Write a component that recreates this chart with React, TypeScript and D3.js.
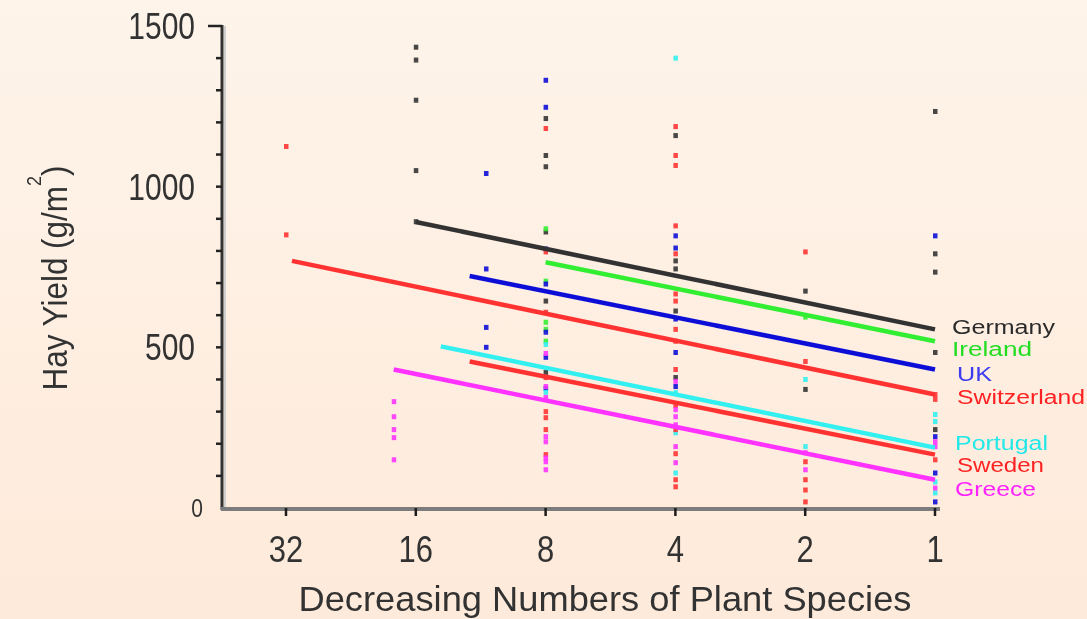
import React from "react";
import * as d3 from "d3";

// species counts on the x axis (log2 spaced, decreasing to the right)
const xTicks = [32, 16, 8, 4, 2, 1];
const yTicks = [0, 500, 1000, 1500];

const countries = ["Germany", "Ireland", "UK", "Switzerland", "Portugal", "Sweden", "Greece"];
const colors = ["#333333", "#33ee33", "#1010d8", "#ff3333", "#33f0f0", "#ff3333", "#ff33ff"];
const labelColors = ["#2a2a2a", "#22dd22", "#3b3bf0", "#ff2222", "#22e8e8", "#ff2222", "#ff22ff"];

// regression lines: start species count, value there, value at 1 species
const trendStart = [16, 8, 12, 31, 14, 12, 18];
const trendFrom = [890, 765, 722, 769, 503, 456, 431];
const trendTo = [556, 519, 431, 353, 188, 166, 88];

// plot observations [species, g/m2]
const germanyPts = [[16, 1434], [16, 1394], [16, 1269], [16, 1050], [16, 891], [8, 1212], [8, 1097], [8, 1062], [8, 859], [8, 644], [8, 422],
  [4, 1159], [4, 769], [4, 744], [4, 613], [4, 406], [2, 675], [2, 369], [1, 1234], [1, 791], [1, 734], [1, 484], [1, 244]];
const irelandPts = [[8, 869], [8, 706], [8, 578], [8, 556], [8, 519], [2, 594]];
const ukPts = [[11, 1041], [11, 744], [11, 562], [11, 500], [8, 1331], [8, 1247], [8, 806], [8, 697], [8, 547], [8, 469], [8, 372],
  [4, 847], [4, 809], [4, 588], [4, 484], [4, 378], [1, 847], [1, 222], [1, 109], [1, 19]];
const swissPts = [[32, 1125], [32, 850], [8, 1181], [8, 797], [8, 609], [8, 406], [4, 1187], [4, 1097], [4, 1066], [4, 878], [4, 791],
  [4, 666], [4, 644], [4, 556], [2, 797], [2, 456], [1, 353], [1, 338]];
const portugalPts = [[8, 509], [8, 360], [4, 1400], [4, 359], [4, 234], [4, 109], [2, 400], [2, 191], [1, 291], [1, 269], [1, 81], [1, 47]];
const swedenPts = [[8, 300], [8, 281], [8, 244], [8, 166], [4, 519], [4, 431], [4, 319], [4, 244], [4, 169], [4, 88], [4, 66],
  [2, 144], [2, 88], [2, 56], [2, 19], [1, 150]];
const greecePts = [[18, 331], [18, 284], [18, 244], [18, 219], [18, 150], [8, 481], [8, 378], [8, 344], [8, 222], [8, 206], [8, 156],
  [8, 144], [8, 119], [4, 394], [4, 306], [4, 284], [4, 259], [4, 191], [4, 141], [2, 172], [2, 119], [1, 206], [1, 191], [1, 62]];
const allPts = [germanyPts, irelandPts, ukPts, swissPts, portugalPts, swedenPts, greecePts];

// label layout at the right end
const labelX = [952, 952, 957, 957, 955, 957, 955];
const labelY = [327, 349, 374, 397, 443, 465, 489];
const labelW = [103, 80, 35, 128, 93, 87, 81];

const font = "'Liberation Sans', Arial, sans-serif";

export default function App() {
  const width = 1087;
  const height = 619;
  const x = d3.scaleLog().base(2).domain([32, 1]).range([286, 935]);
  const y = d3.scaleLinear().domain([0, 1500]).range([508, 26]);
  const line = d3.line<[number, number]>().x((d) => x(d[0])).y((d) => y(d[1]));
  const minor = d3.range(100, 1501, 100);

  return (
    <div style={{ position: "fixed", left: 0, top: 0 }}>
      <svg width={width} height={height} style={{ display: "block" }}>
        <defs>
          <linearGradient id="bg" x1="0" y1="0" x2="0" y2="1">
            <stop offset="0" stopColor="#fef4ea" />
            <stop offset="1" stopColor="#feeada" />
          </linearGradient>
          <filter id="soft" x="-5%" y="-5%" width="110%" height="110%">
            <feGaussianBlur stdDeviation="0.7" />
          </filter>
        </defs>
        <rect width={width} height={height} fill="url(#bg)" />

        <g filter="url(#soft)">
          {/* points */}
          {allPts.map((pts, i) =>
            pts.map((d, j) => (
              <rect key={i + "-" + j} x={x(d[0]) - 2} y={y(d[1]) - 2.5} width={4.5} height={5} fill={colors[i]} opacity={0.9} />
            ))
          )}
          {/* trend lines */}
          {countries.map((c, i) => (
            <path key={c} d={line([[trendStart[i], trendFrom[i]], [1, trendTo[i]]]) || ""} stroke={colors[i]} strokeWidth={4.5} fill="none" />
          ))}

          {/* y axis */}
          <line x1={225} x2={225} y1={y(1500)} y2={y(0)} stroke="#cfcfcf" strokeWidth={2} />
          <line x1={222} x2={222} y1={y(1500) - 1} y2={y(0) + 2} stroke="#333" strokeWidth={3} />
          {minor.map((v) => (
            <line key={v} x1={v === 1500 ? 208 : 216} x2={222} y1={y(v)} y2={y(v)} stroke="#222" strokeWidth={2.5} />
          ))}
          {/* x axis */}
          <line x1={221} x2={940} y1={509} y2={509} stroke="#7b7b7b" strokeWidth={4} />
          {xTicks.map((t) => (
            <line key={t} x1={x(t)} x2={x(t)} y1={508} y2={516} stroke="#1a1a1a" strokeWidth={2.5} />
          ))}

          {/* tick labels */}
          {yTicks.map((v) => (
            <text key={v} transform={`translate(${v === 0 ? 203 : 195},${y(v)}) scale(1,1.2)`} textAnchor="end" dy="0.36em"
              fontSize={v === 0 ? 21 : 30} fill="#333" fontFamily={font}>
              {v}
            </text>
          ))}
          {xTicks.map((t) => (
            <text key={t} transform={`translate(${x(t)},549) scale(1,1.2)`} textAnchor="middle" dy="0.36em"
              fontSize={31} fill="#333" fontFamily={font}>
              {t}
            </text>
          ))}

          {/* axis titles */}
          <text x={605} y={611} textAnchor="middle" fontSize={35} fill="#333" fontFamily={font}
            textLength={613} lengthAdjust="spacingAndGlyphs">
            Decreasing Numbers of Plant Species
          </text>
          <text transform="translate(67,278) rotate(-90)" textAnchor="middle" fontSize={35} fill="#333" fontFamily={font}
            textLength={225} lengthAdjust="spacingAndGlyphs">
            Hay Yield (g/m<tspan fontSize={20} dy={-26}>2</tspan><tspan dy={26}>)</tspan>
          </text>

          {/* country labels */}
          {countries.map((c, i) => (
            <text key={c} transform={`translate(${labelX[i]},${labelY[i]}) scale(1,1.08)`} dy="0.36em" fontSize={19}
              fill={labelColors[i]} fontFamily={font} textLength={labelW[i]} lengthAdjust="spacingAndGlyphs">
              {c}
            </text>
          ))}
        </g>
      </svg>
    </div>
  );
}
